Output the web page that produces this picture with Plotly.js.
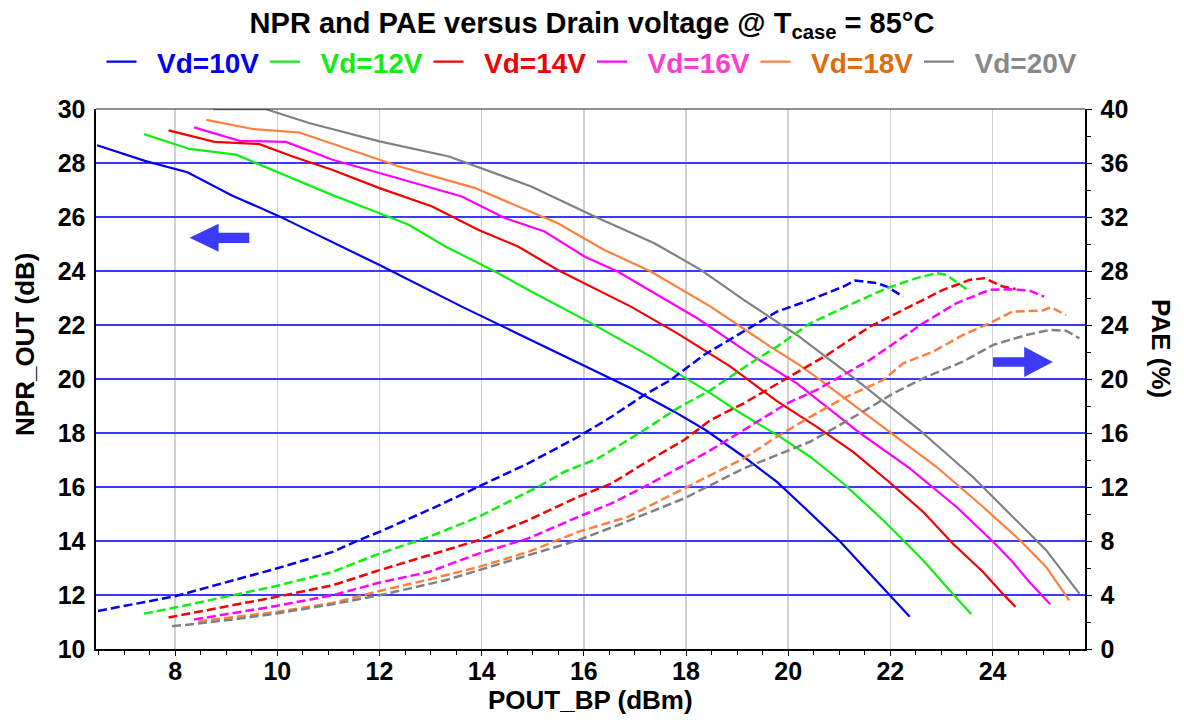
<!DOCTYPE html>
<html>
<head>
<meta charset="utf-8">
<script src="https://cdn.plot.ly/plotly-3.0.1.min.js"></script>
<style>html,body{margin:0;padding:0;background:#fff;}#chart{width:1184px;height:720px;}</style>
</head>
<body>
<div id="chart"></div>
<script>
// ---- Data ----
const seriesNames = ['Vd=10V', 'Vd=12V', 'Vd=14V', 'Vd=16V', 'Vd=18V', 'Vd=20V'];

// NPR_OUT (dB) vs POUT_BP (dBm) - left axis
const npr10_x = [6.47, 7.44, 8.24, 9.12, 10.0, 11.07, 12.0, 13.61, 15.24, 16.92, 17.77, 18.38, 19.13, 19.78, 20.30, 21.02, 21.54, 21.93, 22.38];
const npr10_y = [28.66, 28.06, 27.66, 26.79, 26.06, 25.09, 24.22, 22.68, 21.20, 19.66, 18.79, 18.11, 17.12, 16.19, 15.27, 13.97, 12.91, 12.11, 11.19];
const npr12_x = [7.39, 8.28, 9.19, 9.98, 11.07, 12.0, 12.57, 13.29, 14.26, 15.10, 16.14, 17.31, 18.48, 19.07, 19.78, 20.43, 21.08, 21.86, 22.64, 23.22, 23.58];
const npr12_y = [29.07, 28.52, 28.31, 27.69, 26.82, 26.14, 25.71, 24.91, 23.98, 23.11, 22.07, 20.83, 19.47, 18.73, 17.93, 17.12, 16.13, 14.77, 13.29, 12.05, 11.30];
const npr14_x = [7.87, 8.77, 9.65, 10.30, 11.07, 12.0, 13.03, 13.94, 14.71, 15.49, 16.92, 17.83, 18.87, 19.45, 19.78, 20.56, 21.27, 21.93, 22.64, 23.22, 23.81, 24.20, 24.45];
const npr14_y = [29.21, 28.78, 28.70, 28.24, 27.75, 27.07, 26.39, 25.52, 24.91, 24.04, 22.68, 21.69, 20.46, 19.66, 19.18, 18.23, 17.30, 16.26, 15.08, 13.91, 12.86, 12.05, 11.56];
const npr16_x = [8.37, 9.26, 10.17, 11.08, 12.0, 13.61, 14.45, 15.23, 16.02, 16.66, 18.22, 19.33, 20.17, 21.41, 22.38, 23.29, 24.01, 24.39, 24.72, 25.13];
const npr16_y = [29.32, 28.82, 28.78, 28.12, 27.63, 26.76, 25.96, 25.46, 24.53, 23.98, 22.25, 20.83, 19.84, 17.99, 16.69, 15.27, 13.97, 13.23, 12.48, 11.66];
const npr18_x = [8.61, 9.52, 10.43, 11.40, 12.0, 12.34, 13.87, 15.49, 16.40, 17.31, 18.48, 19.65, 20.17, 20.63, 21.93, 22.90, 23.81, 24.53, 25.05, 25.50];
const npr18_y = [29.60, 29.26, 29.13, 28.49, 28.12, 27.90, 27.07, 25.77, 24.78, 23.98, 22.68, 21.20, 20.58, 19.96, 18.11, 16.75, 15.27, 14.04, 13.04, 11.80];
const npr20_x = [8.74, 9.78, 10.62, 11.60, 12.0, 13.36, 14.97, 16.21, 17.38, 18.29, 19.13, 20.17, 21.34, 22.57, 23.61, 24.33, 25.05, 25.70];
const npr20_y = [29.99, 29.99, 29.48, 28.98, 28.80, 28.24, 27.13, 26.02, 25.03, 24.04, 22.93, 21.63, 19.96, 18.11, 16.38, 15.02, 13.66, 12.05];

// PAE (%) vs POUT_BP (dBm) - right axis
const pae10_x = [6.49, 8.0, 9.98, 11.08, 11.59, 12.0, 13.03, 13.94, 14.91, 15.89, 16.54, 17.18, 17.70, 18.35, 19.13, 19.78, 20.43, 21.08, 21.31, 21.73, 21.93, 22.25];
const pae10_y = [2.82, 3.91, 5.96, 7.19, 8.06, 8.68, 10.41, 12.01, 13.75, 15.72, 17.20, 18.81, 19.93, 21.78, 23.51, 24.99, 25.86, 26.85, 27.29, 27.10, 26.85, 26.10];
const pae12_x = [7.39, 8.0, 9.98, 11.08, 12.0, 12.97, 13.94, 15.10, 15.62, 16.28, 17.18, 17.83, 18.48, 19.26, 19.78, 20.43, 21.27, 21.93, 22.51, 22.90, 23.10, 23.49];
const pae12_y = [2.62, 3.07, 4.67, 5.71, 7.07, 8.31, 9.79, 12.01, 13.13, 14.12, 16.22, 17.83, 19.18, 21.16, 22.40, 24.13, 25.61, 26.73, 27.47, 27.84, 27.71, 26.65];
const pae14_x = [7.87, 8.0, 9.98, 11.08, 12.0, 13.09, 13.94, 14.91, 15.89, 16.54, 17.18, 17.96, 18.48, 19.13, 19.91, 20.76, 21.60, 22.25, 23.03, 23.55, 23.84, 24.20, 24.45];
const pae14_y = [2.33, 2.43, 3.86, 4.72, 5.84, 7.07, 8.06, 9.54, 11.27, 12.26, 13.75, 15.48, 16.96, 18.20, 19.93, 21.78, 23.88, 25.12, 26.60, 27.34, 27.47, 26.85, 26.67];
const pae16_x = [8.37, 9.98, 11.08, 12.0, 12.97, 13.94, 14.91, 15.89, 16.54, 17.18, 17.96, 18.48, 19.13, 19.98, 20.56, 21.60, 22.64, 23.29, 23.94, 24.33, 24.72, 25.01];
const pae16_y = [2.18, 3.19, 3.98, 4.92, 5.71, 7.07, 8.19, 9.79, 10.78, 12.01, 13.62, 14.73, 16.22, 18.20, 19.20, 21.42, 24.13, 25.61, 26.60, 26.65, 26.55, 26.10];
const pae18_x = [8.45, 9.98, 11.08, 12.0, 12.97, 13.94, 14.91, 15.89, 16.86, 17.96, 19.13, 19.78, 20.43, 21.08, 21.86, 22.25, 22.84, 23.42, 23.94, 24.39, 24.98, 25.14, 25.44];
const pae18_y = [2.05, 2.74, 3.41, 4.30, 5.15, 6.08, 7.19, 8.68, 9.79, 11.89, 14.12, 15.72, 17.20, 18.57, 19.93, 21.16, 22.03, 23.26, 24.13, 24.99, 25.07, 25.32, 24.74];
const pae20_x = [7.94, 9.13, 9.98, 11.08, 12.0, 13.29, 14.59, 15.89, 16.66, 17.96, 19.13, 19.78, 20.43, 21.41, 22.06, 22.71, 23.42, 24.01, 24.66, 25.11, 25.44, 25.70];
const pae20_y = [1.68, 2.18, 2.63, 3.32, 3.98, 5.09, 6.58, 8.06, 9.17, 11.15, 13.38, 14.36, 15.35, 17.46, 18.94, 20.17, 21.28, 22.52, 23.26, 23.63, 23.58, 23.02];

// ---- Styling ----
const lineColors   = ['#0000f0', '#11ee11', '#f40000', '#ff00ff', '#ff7f3f', '#808080'];
const legendColors = ['#0000f0', '#11ee11', '#f40000', '#ff3bd0', '#e36c0a', '#888888'];
const FONT = 'Liberation Sans, Arial, Helvetica, sans-serif';

const nprX = [npr10_x, npr12_x, npr14_x, npr16_x, npr18_x, npr20_x];
const nprY = [npr10_y, npr12_y, npr14_y, npr16_y, npr18_y, npr20_y];
const paeX = [pae10_x, pae12_x, pae14_x, pae16_x, pae18_x, pae20_x];
const paeY = [pae10_y, pae12_y, pae14_y, pae16_y, pae18_y, pae20_y];

const traces = [];
for (let i = 0; i < seriesNames.length; i++) {
  traces.push({
    x: nprX[i], y: nprY[i], type: 'scatter', mode: 'lines', yaxis: 'y',
    name: '\u00a0\u00a0<span style="color:' + legendColors[i] + '">' + seriesNames[i] + '</span>',
    line: {color: lineColors[i], width: 2.2}, hoverinfo: 'skip'
  });
}
for (let i = 0; i < seriesNames.length; i++) {
  traces.push({
    x: paeX[i], y: paeY[i], type: 'scatter', mode: 'lines', yaxis: 'y2',
    showlegend: false, name: seriesNames[i] + ' PAE',
    line: {color: lineColors[i], width: 2.5, dash: '9px,4px'}, hoverinfo: 'skip'
  });
}

const ARROW = '#3b3bf7';
const layout = {
  width: 1184, height: 720,
  margin: {l: 96, r: 99, t: 109, b: 71, pad: 0},
  paper_bgcolor: '#ffffff', plot_bgcolor: '#ffffff',
  font: {family: FONT, color: '#000', size: 25, weight: 'bold'},
  showlegend: true,
  title: {
    text: 'NPR and PAE versus Drain voltage @ T<sub>case</sub> = 85°C',
    font: {family: FONT, size: 29, weight: 'bold', color: '#000'},
    xref: 'container', yref: 'container', x: 0.5, xanchor: 'center',
    y: 1 - 23/720, yanchor: 'middle'
  },
  legend: {
    orientation: 'h', xref: 'container', yref: 'container',
    x: 101.5/1184, xanchor: 'left', y: 1 - 37/720, yanchor: 'top',
    font: {family: FONT, size: 28, weight: 'bold', color: '#000'},
    entrywidth: 118.5, entrywidthmode: 'pixels',
    bgcolor: 'rgba(0,0,0,0)', borderwidth: 0
  },
  xaxis: {
    range: [6.45, 25.81], tick0: 0, dtick: 2, tickmode: 'linear',
    showgrid: true, gridcolor: '#d0d0d0', gridwidth: 1.5, zeroline: false,
    showline: true, linecolor: '#000', linewidth: 2, mirror: false,
    ticks: 'outside', ticklen: 5, tickcolor: '#000', tickwidth: 1,
    minor: {dtick: 0.5, tick0: 0, ticks: 'outside', ticklen: 4, tickcolor: '#000', showgrid: false},
    tickfont: {family: FONT, size: 25, weight: 'bold', color: '#000'},
    ticklabelstandoff: -6
  },
  yaxis: {
    range: [10, 30], tick0: 10, dtick: 2, tickmode: 'linear',
    showgrid: true, gridcolor: '#3a3aff', gridwidth: 1.2, zeroline: false,
    showline: true, linecolor: '#000', linewidth: 2.5,
    ticks: '', tickfont: {family: FONT, size: 25, weight: 'bold', color: '#000'},
    ticklabelstandoff: 3
  },
  yaxis2: {
    range: [0, 40], tick0: 0, dtick: 4, tickmode: 'linear',
    overlaying: 'y', side: 'right', showgrid: false, zeroline: false,
    showline: true, linecolor: '#000', linewidth: 1.5,
    ticks: 'outside', ticklen: 5, tickcolor: '#000',
    minor: {dtick: 2, ticks: 'outside', ticklen: 4, tickcolor: '#000', showgrid: false},
    tickfont: {family: FONT, size: 25, weight: 'bold', color: '#000'},
    ticklabelstandoff: 4
  },
  annotations: [
    {text: 'NPR_OUT (dB)', xref: 'paper', yref: 'paper', x: -71/989, y: (648.7 - 345)/539.4,
     xanchor: 'center', yanchor: 'middle', textangle: -90, showarrow: false,
     font: {family: FONT, size: 26, weight: 'bold', color: '#000'}},
    {text: 'PAE (%)', xref: 'paper', yref: 'paper', x: 1 + 76/989, y: (648.7 - 348)/539.4,
     xanchor: 'center', yanchor: 'middle', textangle: 90, showarrow: false,
     font: {family: FONT, size: 26, weight: 'bold', color: '#000'}},
    {text: 'POUT_BP (dBm)', xref: 'paper', yref: 'paper', x: 0.5, y: (648.7 - 700)/539.4,
     xanchor: 'center', yanchor: 'middle', showarrow: false,
     font: {family: FONT, size: 26, weight: 'bold', color: '#000'}}
  ],
  shapes: [
    // top border
    {type: 'line', xref: 'paper', yref: 'paper', x0: 0, x1: 1, y0: 1, y1: 1, line: {color: '#222', width: 1}},
    // left-pointing arrow (NPR -> left axis)
    {type: 'path', xref: 'x', yref: 'y', fillcolor: ARROW, line: {width: 0},
     path: 'M8.28,25.23 L8.85,25.75 L8.85,25.42 L9.45,25.42 L9.45,25.04 L8.85,25.04 L8.85,24.71 Z'},
    // right-pointing arrow (PAE -> right axis)
    {type: 'path', xref: 'x', yref: 'y', fillcolor: ARROW, line: {width: 0},
     path: 'M25.18,20.63 L24.62,21.19 L24.62,20.81 L24.01,20.81 L24.01,20.45 L24.62,20.45 L24.62,20.07 Z'}
  ]
};

Plotly.newPlot('chart', traces, layout, {staticPlot: true, displayModeBar: false});
</script>
</body>
</html>
